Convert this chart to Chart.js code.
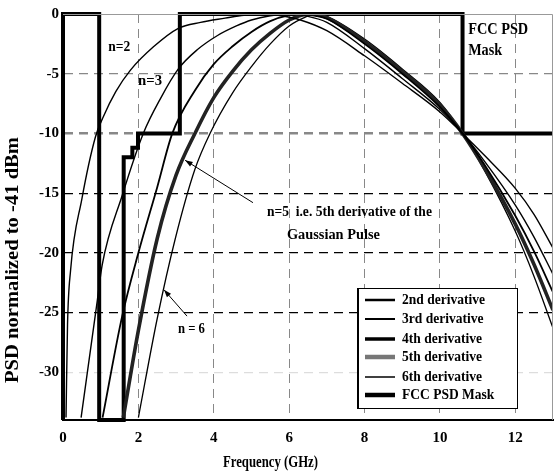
<!DOCTYPE html>
<html>
<head>
<meta charset="utf-8">
<script src="https://cdn.jsdelivr.net/npm/chart.js@4.4.1/dist/chart.umd.min.js"></script>
<style>
  html, body { margin: 0; padding: 0; background: #fff; }
  #wrap { width: 559px; height: 472px; }
</style>
</head>
<body>
<div id="wrap"><canvas id="psd-chart"></canvas></div>
<script>
const xTicks = [0, 2, 4, 6, 8, 10, 12];
const yTicks = [0, -5, -10, -15, -20, -25, -30];

// PSD curves (GHz, dB relative to -41 dBm)
const freq2 = [0.08, 0.12, 0.2, 0.5, 0.86, 1.07, 1.4, 1.79, 2.4, 3.06, 3.65, 4.3, 4.8, 5.3, 5.8, 6.3, 7.0, 8.0, 9.0, 10.0, 10.6, 11.2, 12.0, 12.5, 13.0];
const psd2  = [-33.8, -26, -21.5, -15.5, -10.3, -8.6, -6.5, -4.7, -2.75, -1.2, -0.7, -0.35, -0.1, 0, -0.15, -0.5, -1.4, -3.5, -5.8, -8.2, -10, -11.9, -14.6, -16.8, -19.6];

const freq3 = [0.48, 0.91, 1.04, 1.57, 2.13, 2.6, 3.06, 3.56, 4.1, 4.6, 5.0, 5.5, 6.0, 6.5, 7.0, 8.0, 9.0, 10.0, 10.6, 11.2, 12.0, 12.5, 13.0];
const psd3  = [-33.8, -24, -21, -15.2, -10, -7, -4.6, -3, -1.8, -1.0, -0.5, -0.15, 0, -0.2, -0.7, -2.9, -5.4, -8.0, -10, -12.4, -16, -18.7, -21.8];

const freq4 = [1.05, 1.57, 2.0, 2.5, 2.9, 3.5, 4.0, 4.5, 5.0, 5.5, 6.0, 6.3, 6.7, 7.0, 8.0, 9.0, 10.0, 10.6, 11.2, 12.0, 12.5, 13.0];
const psd4  = [-33.8, -25.3, -20, -14.5, -10, -6.4, -4.2, -2.7, -1.5, -0.6, -0.1, 0, -0.15, -0.4, -2.5, -5, -7.8, -10, -12.7, -16.9, -19.9, -23.3];

const freq5 = [1.6, 2.0, 2.5, 3.0, 3.5, 4.0, 4.5, 5.0, 5.5, 6.0, 6.4, 6.6, 7.0, 8.0, 9.0, 10.0, 10.6, 11.2, 12.0, 12.5, 13.0];
const psd5  = [-33.8, -26.5, -18.8, -13.5, -10, -7, -4.8, -3, -1.6, -0.5, -0.05, 0, -0.3, -2.3, -4.8, -7.6, -10, -13, -17.6, -21, -24.8];

const freq6 = [2.0, 2.5, 2.98, 3.5, 3.9, 4.5, 5.0, 5.5, 6.0, 6.4, 6.7, 7.0, 8.0, 9.0, 10.0, 10.6, 11.2, 12.0, 12.5, 13.0];
const psd6  = [-33.8, -25.5, -18.8, -13, -10, -6.6, -4.4, -2.5, -1.0, -0.3, 0, -0.2, -2.1, -4.6, -7.4, -10, -13.2, -18.2, -22, -26.3];

// FCC indoor PSD mask, drawn as steps
const maskFreq = [0, 0, 0.96, 0.96, 1.61, 1.61, 1.84, 1.84, 1.99, 1.99, 3.1, 3.1, 10.6, 10.6, 13];
const maskPsd  = [-34, 0, 0, -34, -34, -12, -12, -11.2, -11.2, -10, -10, 0, 0, -10, -10];

const serif = "'Liberation Serif', 'Times New Roman', serif";

function pts(xs, ys) {
  return xs.map((x, i) => ({ x: x, y: ys[i] }));
}

function curve(label, xs, ys, color, width) {
  return {
    label: label,
    data: pts(xs, ys),
    borderColor: color,
    borderWidth: width,
    pointRadius: 0,
    fill: false,
    cubicInterpolationMode: "monotone"
  };
}

const datasets = [
  curve("2nd derivative", freq2, psd2, "#000", 1.4),
  curve("3rd derivative", freq3, psd3, "#000", 1.4),
  curve("4th derivative", freq4, psd4, "#000", 1.8),
  curve("5th derivative", freq5, psd5, "#222", 3.6),
  curve("6th derivative", freq6, psd6, "#000", 1.3),
  {
    label: "FCC PSD Mask",
    data: pts(maskFreq, maskPsd),
    borderColor: "#000",
    borderWidth: 4,
    pointRadius: 0,
    fill: false,
    tension: 0,
    clip: false
  }
];

// legend sample widths / colours (as in the figure's key)
const legendWidths = [2.5, 2, 3.5, 4.5, 1.5, 4.5];
const legendColors = ["#000", "#000", "#000", "#777", "#000", "#000"];

// draw text squeezed/stretched to a given width (left, middle)
function fitText(ctx, str, x, y, w) {
  const m = ctx.measureText(str).width;
  ctx.save();
  ctx.translate(x, y);
  ctx.scale(w / m, 1);
  ctx.fillText(str, 0, 0);
  ctx.restore();
}

const overlay = {
  id: "overlay",
  afterDatasetsDraw(chart) {
    const ctx = chart.ctx;
    const xs = chart.scales.x, ys = chart.scales.y;
    const area = chart.chartArea;
    const px = v => xs.getPixelForValue(v);
    const py = v => ys.getPixelForValue(v);

    // thin gray frame top / right
    ctx.save();
    ctx.strokeStyle = "#999";
    ctx.lineWidth = 1;
    ctx.beginPath();
    ctx.moveTo(area.left, area.top + 0.5);
    ctx.lineTo(area.right - 0.5, area.top + 0.5);
    ctx.lineTo(area.right - 0.5, area.bottom);
    ctx.stroke();
    ctx.restore();

    // text notes
    ctx.save();
    ctx.fillStyle = "#000";
    ctx.textBaseline = "middle";
    ctx.font = "bold 15px " + serif;
    fitText(ctx, "n=2", px(1.2), py(-2.75), 22);
    fitText(ctx, "n=3", px(1.99), py(-5.6), 24);
    ctx.font = "bold 16px " + serif;
    fitText(ctx, "FCC PSD", px(10.75), py(-1.3), 60);
    fitText(ctx, "Mask", px(10.75), py(-3.05), 34);
    ctx.font = "bold 14px " + serif;
    fitText(ctx, "n=5  i.e. 5th derivative of the", px(5.41), py(-16.6), 165);
    fitText(ctx, "Gaussian Pulse", px(5.94), py(-18.5), 93);
    fitText(ctx, "n = 6", px(3.05), py(-26.4), 27);

    // arrows
    function arrow(x1, y1, x2, y2) {
      const a = px(x1), b = py(y1), c = px(x2), d = py(y2);
      ctx.strokeStyle = "#000";
      ctx.lineWidth = 1;
      ctx.beginPath();
      ctx.moveTo(a, b);
      ctx.lineTo(c, d);
      ctx.stroke();
      const ang = Math.atan2(d - b, c - a);
      ctx.beginPath();
      ctx.moveTo(c, d);
      ctx.lineTo(c - 8 * Math.cos(ang - 0.35), d - 8 * Math.sin(ang - 0.35));
      ctx.lineTo(c - 8 * Math.cos(ang + 0.35), d - 8 * Math.sin(ang + 0.35));
      ctx.closePath();
      ctx.fill();
    }
    arrow(5.04, -15.8, 3.24, -12.25);
    arrow(3.29, -25.3, 2.68, -23.1);

    // legend box
    const lx = area.left + 294, ly = area.top + 274, lw = 160, lh = 120;
    ctx.fillStyle = "#fff";
    ctx.fillRect(lx, ly, lw, lh);
    ctx.strokeStyle = "#000";
    ctx.lineWidth = 1;
    ctx.strokeRect(lx + 0.5, ly + 0.5, lw, lh);
    ctx.lineWidth = 2;
    ctx.beginPath();
    ctx.moveTo(lx + 1, ly);
    ctx.lineTo(lx + 1, ly + lh);
    ctx.stroke();
    ctx.font = "bold 14px " + serif;
    const k = 83 / ctx.measureText("2nd derivative").width;
    const rowY = [12, 31, 51, 69, 89, 107];
    chart.data.datasets.forEach((ds, i) => {
      const yy = ly + rowY[i];
      ctx.strokeStyle = legendColors[i];
      ctx.lineWidth = legendWidths[i];
      ctx.beginPath();
      ctx.moveTo(lx + 8, yy);
      ctx.lineTo(lx + 38, yy);
      ctx.stroke();
      ctx.fillStyle = "#000";
      fitText(ctx, ds.label, lx + 45, yy, ctx.measureText(ds.label).width * k);
    });

    // axis titles
    ctx.font = "bold 16px " + serif;
    fitText(ctx, "Frequency (GHz)", 223, 463, 95);
    ctx.translate(13, 383);
    ctx.rotate(-Math.PI / 2);
    ctx.font = "bold 18px " + serif;
    fitText(ctx, "PSD normalized to -41 dBm", 0, 0, 246);
    ctx.restore();
  }
};

function yGridColor(c) {
  const v = c.tick ? c.tick.value : 0;
  if (v === -5 || v === -10) return "#888";
  if (v === -30) return "#ddd";
  if (v === 0) return "rgba(0,0,0,0)";
  return "#000";
}
function yGridWidth(c) {
  const v = c.tick ? c.tick.value : 0;
  return v === -10 ? 2.5 : 1.2;
}

new Chart(document.getElementById("psd-chart"), {
  type: "line",
  data: { datasets: datasets },
  options: {
    responsive: true,
    maintainAspectRatio: false,
    animation: false,
    layout: { padding: { top: 14, right: 6, left: 0, bottom: 0 } },
    plugins: { legend: { display: false }, tooltip: { enabled: false } },
    scales: {
      x: {
        type: "linear",
        min: 0,
        max: 13,
        afterBuildTicks: s => { s.ticks = xTicks.map(v => ({ value: v })); },
        afterFit: s => { s.height = 52; },
        grid: {
          drawTicks: false,
          color: c => (c.tick && c.tick.value === 0 ? "rgba(0,0,0,0)" : "#888"),
          lineWidth: 1
        },
        border: { display: true, color: "#000", width: 2, dash: [9, 6] },
        ticks: {
          padding: 9,
          color: "#000",
          font: { family: serif, size: 15, weight: "bold" }
        }
      },
      y: {
        min: -34,
        max: 0,
        afterBuildTicks: s => { s.ticks = yTicks.map(v => ({ value: v })); },
        afterFit: s => { s.width = 63; },
        grid: {
          drawTicks: false,
          color: yGridColor,
          lineWidth: yGridWidth
        },
        border: { display: true, color: "#000", width: 2, dash: [9, 6] },
        ticks: {
          padding: 4,
          color: "#000",
          font: { family: serif, size: 15, weight: "bold" }
        }
      }
    }
  },
  plugins: [overlay]
});
</script>
</body>
</html>
